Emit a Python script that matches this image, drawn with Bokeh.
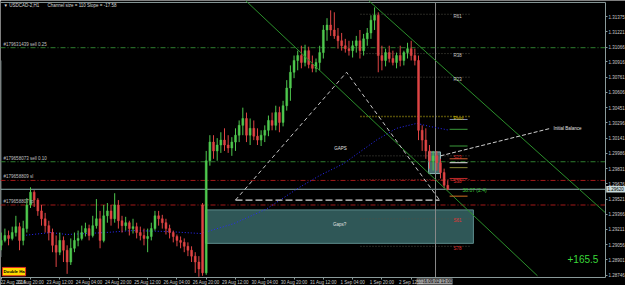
from bokeh.plotting import figure
from bokeh.models import Range1d, FixedTicker, NumeralTickFormatter
from bokeh.core.properties import value
from bokeh.embed import file_html
from bokeh.resources import INLINE

FONT = "Liberation Sans"

# ---------------- data ----------------
# bar time index in trading hours since 22 Aug 2016 00:00 (2-hour bars)
bar_hours = list(range(4, 250, 2))
opens = [1.2905,1.2910,1.2915,1.2912,1.2918,1.2924,1.2910,1.2922,1.2946,1.2959,
         1.2951,1.2940,1.2932,1.2925,1.2918,1.2905,1.2898,1.2910,1.2900,1.2888,
         1.2902,1.2910,1.2912,1.2918,1.2922,1.2915,1.2925,1.2932,1.2910,1.2935,
         1.2940,1.2932,1.2946,1.2930,1.2925,1.2928,1.2922,1.2924,1.2918,1.2915,
         1.2912,1.2914,1.2922,1.2935,1.2932,1.2928,1.2922,1.2918,1.2914,1.2910,
         1.2908,1.2904,1.2900,1.2894,1.2888,1.2946,1.2877,1.2991,1.3010,1.3001,
         1.3007,1.3012,1.3007,1.3004,1.3010,1.3017,1.3027,1.3034,1.3017,1.3024,
         1.3016,1.3012,1.3017,1.3022,1.3032,1.3027,1.3040,1.3030,1.3047,1.3065,
         1.3081,1.3093,1.3098,1.3091,1.3103,1.3089,1.3085,1.3091,1.3101,1.3124,
         1.3129,1.3124,1.3118,1.3113,1.3108,1.3105,1.3103,1.3108,1.3113,1.3103,
         1.3115,1.3121,1.3134,1.3139,1.3098,1.3093,1.3101,1.3095,1.3091,1.3098,
         1.3093,1.3101,1.3105,1.3098,1.3093,1.3022,1.3012,1.3001,1.2991,1.2996,
         1.2989,1.2979,1.2966]
highs = [1.2918,1.2922,1.2920,1.2924,1.2935,1.2928,1.2930,1.2953,1.2964,1.2961,
         1.2953,1.2946,1.2938,1.2930,1.2922,1.2915,1.2918,1.2914,1.2905,1.2912,
         1.2918,1.2920,1.2925,1.2928,1.2926,1.2935,1.2952,1.2940,1.2946,1.2948,
         1.2946,1.2958,1.2951,1.2935,1.2934,1.2930,1.2932,1.2928,1.2924,1.2922,
         1.2922,1.2928,1.2940,1.2940,1.2936,1.2932,1.2926,1.2920,1.2916,1.2914,
         1.2912,1.2908,1.2904,1.2898,1.2894,1.2948,1.3001,1.3017,1.3017,1.3014,
         1.3020,1.3024,1.3017,1.3015,1.3024,1.3032,1.3045,1.3040,1.3034,1.3032,
         1.3024,1.3022,1.3027,1.3037,1.3040,1.3047,1.3046,1.3052,1.3073,1.3088,
         1.3098,1.3103,1.3108,1.3109,1.3107,1.3098,1.3095,1.3108,1.3129,1.3136,
         1.3144,1.3142,1.3126,1.3121,1.3115,1.3113,1.3113,1.3118,1.3124,1.3120,
         1.3126,1.3139,1.3147,1.3142,1.3108,1.3105,1.3108,1.3103,1.3101,1.3108,
         1.3103,1.3111,1.3113,1.3105,1.3098,1.3027,1.3024,1.3007,1.3001,1.3001,
         1.2993,1.2983,1.2971]
lows = [1.2900,1.2908,1.2905,1.2910,1.2914,1.2900,1.2905,1.2918,1.2943,1.2944,
        1.2935,1.2925,1.2918,1.2910,1.2898,1.2883,1.2895,1.2888,1.2876,1.2885,
        1.2898,1.2904,1.2910,1.2914,1.2910,1.2913,1.2922,1.2902,1.2908,1.2928,
        1.2925,1.2928,1.2922,1.2918,1.2920,1.2915,1.2917,1.2912,1.2910,1.2905,
        1.2898,1.2910,1.2920,1.2925,1.2922,1.2916,1.2912,1.2908,1.2904,1.2902,
        1.2898,1.2894,1.2888,1.2877,1.2873,1.2874,1.2875,1.2986,1.2993,1.2991,
        1.2999,1.3001,1.2999,1.2996,1.3001,1.3010,1.3017,1.3010,1.3007,1.3012,
        1.3007,1.3006,1.3010,1.3016,1.3022,1.3022,1.3020,1.3026,1.3042,1.3052,
        1.3075,1.3083,1.3085,1.3087,1.3085,1.3081,1.3081,1.3083,1.3095,1.3113,
        1.3118,1.3115,1.3105,1.3103,1.3101,1.3098,1.3096,1.3101,1.3095,1.3098,
        1.3108,1.3115,1.3124,1.3081,1.3083,1.3087,1.3091,1.3088,1.3085,1.3087,
        1.3088,1.3095,1.3093,1.3088,1.3012,1.3001,1.2993,1.2983,1.2981,1.2981,
        1.2973,1.2963,1.2961]
closes = [1.2910,1.2915,1.2912,1.2918,1.2924,1.2910,1.2922,1.2946,1.2959,1.2951,
          1.2940,1.2932,1.2925,1.2918,1.2905,1.2898,1.2910,1.2900,1.2888,1.2902,
          1.2910,1.2912,1.2918,1.2922,1.2915,1.2925,1.2932,1.2910,1.2935,1.2940,
          1.2932,1.2946,1.2930,1.2925,1.2928,1.2922,1.2924,1.2918,1.2915,1.2912,
          1.2914,1.2922,1.2935,1.2932,1.2928,1.2922,1.2918,1.2914,1.2910,1.2908,
          1.2904,1.2900,1.2894,1.2888,1.2881,1.2877,1.2991,1.3010,1.3001,1.3007,
          1.3012,1.3007,1.3004,1.3010,1.3017,1.3027,1.3034,1.3017,1.3024,1.3016,
          1.3012,1.3017,1.3022,1.3032,1.3027,1.3040,1.3030,1.3047,1.3065,1.3081,
          1.3093,1.3098,1.3091,1.3103,1.3089,1.3085,1.3091,1.3101,1.3124,1.3129,
          1.3124,1.3118,1.3113,1.3108,1.3105,1.3103,1.3108,1.3113,1.3103,1.3115,
          1.3121,1.3134,1.3139,1.3098,1.3093,1.3101,1.3095,1.3091,1.3098,1.3093,
          1.3101,1.3105,1.3098,1.3093,1.3022,1.3012,1.3001,1.2991,1.2996,1.2989,
          1.2979,1.2966,1.2962]

# moving average (blue dotted)
ma_hours = [16, 31, 40, 61, 76, 95, 113, 131, 149, 167, 178, 191, 209, 220, 231, 238, 249]
ma_values = [1.2915, 1.2918, 1.2916, 1.2918, 1.2920, 1.2919, 1.2917, 1.2927, 1.2942,
             1.2964, 1.2976, 1.2988, 1.3012, 1.3024, 1.3029, 1.3026, 1.3022]

# x axis labels
x_tick_hours = [4, 20, 36, 52, 68, 84, 100, 116, 132, 148, 164, 180, 196, 212, 228]
x_tick_labels = ["22 Aug 2016", "22 Aug 20:00", "23 Aug 12:00", "24 Aug 04:00",
                 "24 Aug 20:00", "25 Aug 12:00", "26 Aug 04:00", "26 Aug 20:00",
                 "29 Aug 12:00", "30 Aug 04:00", "30 Aug 20:00", "31 Aug 12:00",
                 "1 Sep 04:00", "1 Sep 20:00", "2 Sep 12:00"]
# price axis labels
y_ticks = [1.31375, 1.31221, 1.31066, 1.30916, 1.30761, 1.30606, 1.30451, 1.30296,
           1.30141, 1.29986, 1.29831, 1.29676, 1.29521, 1.29366, 1.29211, 1.29056,
           1.28901, 1.28746]

bid_price = 1.2962
bid_label = "1.29620"
vline_hour = 241.3
vline_label = "2016.09.02 13:00"

order_levels = [1.3106, 1.2990, 1.2971, 1.2946]
order_labels = ["#179631439 sell 0.25", "#179658073 sell 0.10", "#179658809 sl", "#179658807 tp"]

pivot_names = ["R61", "R38", "R23", "Pivot", "S23", "S38", "S61", "S78"]
pivot_levels = [1.3140, 1.3100, 1.3076, 1.3036, 1.2996, 1.2972, 1.2932, 1.2904]
pivot_span_hours = [200.3, 260.4]

ib_levels = [1.3033, 1.3023, 1.3006, 1.2993, 1.2989, 1.2984, 1.2973, 1.2955]
ib_span_hours = [249.0, 258.8]

channel_a_hours = [137.5, 297.0]
channel_a_prices = [1.3154, 1.2874]
channel_b_hours = [204.7, 334.2]
channel_b_prices = [1.3154, 1.2938]

triangle_hours = [132.0, 192.7, 243.5]
triangle_prices = [1.2951, 1.3081, 1.2951]

initial_balance_hours = [244.0, 304.2]
initial_balance_prices = [1.2996, 1.3024]

gaps_box_hours = [115.6, 262.0]
gaps_box_prices = [1.2907, 1.2941]
ib_box_hours = [237.5, 244.0]
ib_box_prices = [1.2978, 1.3000]

profit_text = "+165.5"
range_text = "38.07 (2.4)"

# ---------------- layout constants (chart window) ----------------
X0, X1 = 3.6, 345.1            # whole canvas, in bar hours
Y0, Y1 = 1.286413, 1.31540     # whole canvas, in price
AX_X = 334.2                   # right price-scale line
AX_Y = 1.287226                # bottom time-scale line
TOP_Y = 1.31520                # top border

p = figure(width=625, height=285, x_range=Range1d(X0, X1), y_range=Range1d(Y0, Y1),
           output_backend="svg", toolbar_location=None, y_axis_location="right",
           min_border_left=0, min_border_right=0, min_border_top=0, min_border_bottom=0)
p.background_fill_color = "black"
p.border_fill_color = "black"
p.outline_line_color = None
p.grid.visible = False

ax_col = "#8a9a9a"
lab_col = "#c8c8c8"
p.yaxis.ticker = FixedTicker(ticks=y_ticks)
p.yaxis.formatter = NumeralTickFormatter(format="0.00000")
p.yaxis.fixed_location = AX_X
p.yaxis.bounds = (AX_Y, TOP_Y)
p.xaxis.ticker = FixedTicker(ticks=x_tick_hours)
p.xaxis.major_label_overrides = {h: t for h, t in zip(x_tick_hours, x_tick_labels)}
p.xaxis.major_label_text_align = "left"
p.xaxis.fixed_location = AX_Y
p.xaxis.bounds = (X0, AX_X)
for ax in (p.xaxis, p.yaxis):
    ax.major_label_text_font = FONT
    ax.major_label_text_font_size = "4.5px"
    ax.major_label_text_color = lab_col
    ax.major_tick_out = 2
    ax.major_tick_in = 0
    ax.minor_tick_out = 0
    ax.minor_tick_in = 0
    ax.major_tick_line_color = ax_col
    ax.axis_line_color = ax_col
    ax.major_label_standoff = 1
p.xaxis.major_label_standoff = 0

# chart borders (top and left)
p.segment(x0=[X0], x1=[AX_X], y0=[TOP_Y], y1=[TOP_Y], line_color=ax_col, line_width=1)
p.segment(x0=[3.85], x1=[3.85], y0=[1.2893], y1=[1.3093], line_color="#6f7f7f", line_width=1)

# gaps box (behind candles)
p.quad(left=[gaps_box_hours[0]], right=[gaps_box_hours[1]], bottom=[gaps_box_prices[0]], top=[gaps_box_prices[1]],
       fill_color="#2f5757", line_color="#5e8c8c", line_width=1)
p.quad(left=[ib_box_hours[0]], right=[ib_box_hours[1]], bottom=[ib_box_prices[0]], top=[ib_box_prices[1]],
       fill_color="#4d7878", fill_alpha=0.9, line_color="#8ab4b4", line_width=1)

# order lines
order_colors = ["#2e7d2e", "#2e7d2e", "#a31818", "#a31818"]
for lvl, col in zip(order_levels, order_colors):
    p.segment(x0=[X0], x1=[AX_X], y0=[lvl], y1=[lvl], line_color=col, line_width=1, line_dash="5 2 1 2")

# pivot dotted lines
for name, lvl in zip(pivot_names, pivot_levels):
    col = "#a89a10" if name == "Pivot" else ("#7a2a2a" if name == "S38" else "#4f4f45")
    p.segment(x0=[pivot_span_hours[0]], x1=[pivot_span_hours[1]], y0=[lvl], y1=[lvl],
              line_color=col, line_width=1.4 if name == "Pivot" else 1, line_dash="1 2")

# bid line
p.segment(x0=[X0], x1=[AX_X], y0=[bid_price], y1=[bid_price], line_color="#8fb2b2", line_width=1)
# vertical line
p.segment(x0=[vline_hour], x1=[vline_hour], y0=[AX_Y], y1=[TOP_Y], line_color="#8a8a8a", line_width=1)

# moving average
p.line(ma_hours, ma_values, line_color="#2a2aff", line_width=1, line_dash="1 2")

# candles
cols = ["#4fc94f" if c >= o else "#e04545" for o, c in zip(opens, closes)]
p.segment(x0=bar_hours, x1=bar_hours, y0=lows, y1=highs, line_color=cols, line_width=1)
p.vbar(x=bar_hours, width=1.05, top=[max(o, c) for o, c in zip(opens, closes)],
       bottom=[min(o, c) for o, c in zip(opens, closes)], fill_color=cols, line_color=cols, line_width=0.5)

# channel lines
p.line(channel_a_hours, channel_a_prices, line_color="#2b8f2b", line_width=1)
p.line(channel_b_hours, channel_b_prices, line_color="#2b8f2b", line_width=1)

# GAPS triangle
p.line(triangle_hours, triangle_prices, line_color="#c8c8c8", line_width=1, line_dash="4 3")
p.line([triangle_hours[0], triangle_hours[2]], [triangle_prices[0], triangle_prices[2]],
       line_color="#d8d8d8", line_width=1.2, line_dash="7 3")

# initial balance
p.line(initial_balance_hours, initial_balance_prices, line_color="#d0d0d0", line_width=1, line_dash="4 2")

# short level segments
ib_cols = ["#8090b8", "#3a9a3a", "#3a9a3a", "#d06030", "#e8e8e8", "#8a8a3a", "#c02828", "#d07020"]
for lvl, col in zip(ib_levels, ib_cols):
    p.segment(x0=[ib_span_hours[0]], x1=[ib_span_hours[1]], y0=[lvl], y1=[lvl], line_color=col, line_width=1)


def txt(x, y, s, color, size="4.5px", align="left", baseline="middle", style="normal", yoff=0):
    p.text(x=[x], y=[y], text=[s], text_color=color, text_font=value(FONT), text_font_size=size,
           text_align=align, text_baseline=baseline, text_font_style=style, y_offset=yoff)


# texts
txt(5.3, 1.3149, "\u25bc USDCAD-2,H1", "#d8d8d8")
txt(29.3, 1.3149, "Channel size = 110 Slope = -17.58", "#d8d8d8")
for lvl, lab in zip(order_levels, order_labels):
    txt(5.3, lvl, lab, "#c0c0c0", baseline="bottom", yoff=-1)
for name, lvl in zip(pivot_names, pivot_levels):
    col = "#d8c400" if name == "Pivot" else ("#e03535" if name.startswith("S") else "#c8c8c8")
    txt(251.1, lvl, name, col, yoff=2)
txt(189.4, 1.30035, "GAPS", "#e0e0e0", align="center")
txt(188.9, 1.2926, "Gaps?", "#e0e0e0", align="center")
txt(305.8, initial_balance_prices[1], "Initial Balance", "#e0e0e0")
txt(256.0, 1.2961, range_text, "#3cc03c", size="5px")
txt(313.4, 1.2891, profit_text, "#3ad83a", size="10px")

# Double Ha button
p.quad(left=[4.7], right=[17.3], bottom=[1.2874], top=[1.28825], fill_color="#ffd800", line_color="#e03020", line_width=1)
txt(11.0, 1.28783, "Double Ha", "#000000", size="4.3px", align="center", style="bold")

# price box on the price scale
p.quad(left=[334.6], right=[345.1], bottom=[bid_price - 0.00034], top=[bid_price + 0.00034],
       fill_color="#c8dada", line_color=None)
txt(335.3, bid_price, bid_label, "#000000")
# time box on the time scale
p.quad(left=[231.0], right=[250.6], bottom=[1.28651], top=[1.28712], fill_color="#9a9a9a", line_color=None)
txt(240.8, 1.286815, vline_label, "#000000", align="center")

open("out.html", "w").write(file_html(p, INLINE))
